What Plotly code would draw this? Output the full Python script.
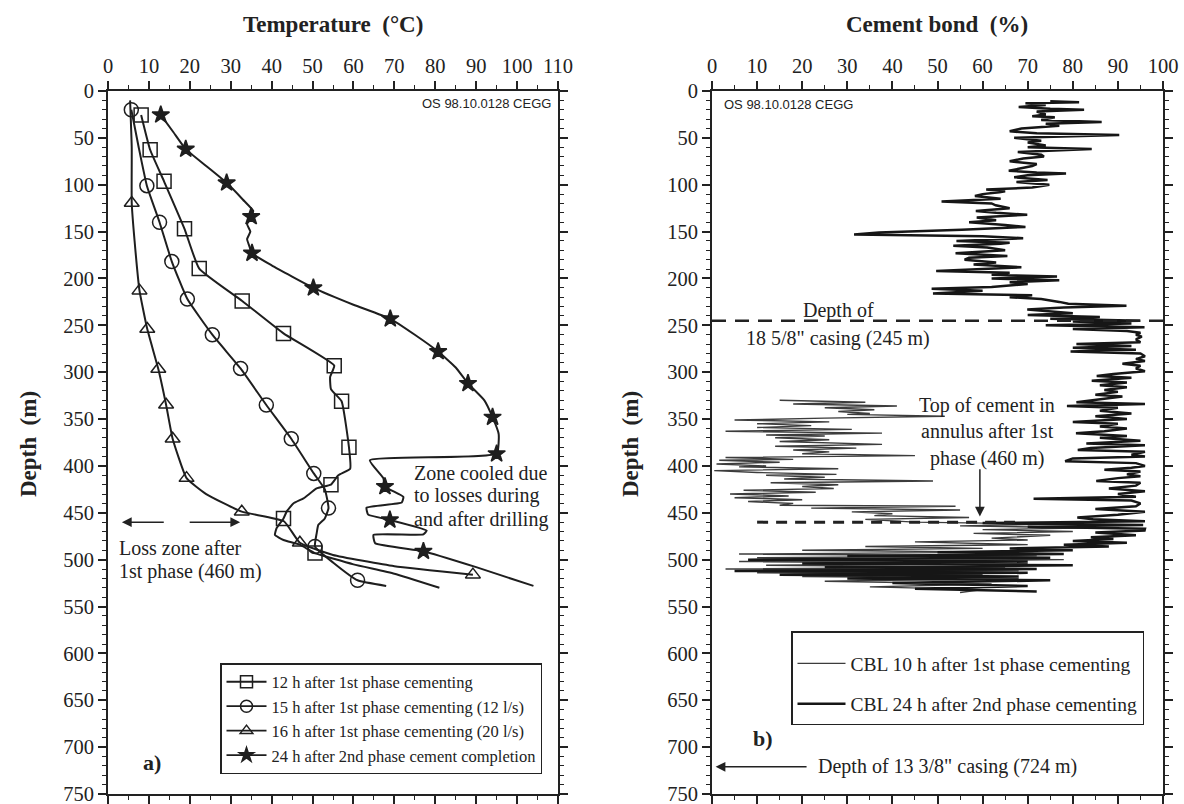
import plotly.graph_objects as go

W, H = 1184, 804
SERIF = "Liberation Serif"
SANS = "Liberation Sans"
INK = "#1e1e1e"

# ---------------- Panel a) temperature profiles ----------------
sq_path_T = [8.1, 10.3, 13.7, 18.7, 22.3, 32.8, 42.9, 55.3, 54.3, 54.5, 57.1, 58.9, 59.2, 56.3, 54.5, 51.0, 47.8, 45.3, 43.7, 42.9, 41.2, 40.8, 42.9, 46.9, 50.6, 60.0, 70.0, 81.0]
sq_path_d = [25.5, 62.7, 96.4, 147, 189.5, 224, 258.6, 293, 305, 318, 331, 380, 403, 410, 420, 424, 434.6, 440, 448.5, 456, 466.5, 473.6, 479, 484, 493, 505, 515, 530]
sq_mark_T = [8.1, 10.3, 13.7, 18.7, 22.3, 32.8, 42.9, 55.3, 57.1, 58.9, 54.5, 42.9, 50.6]
sq_mark_d = [25.5, 62.7, 96.4, 147, 189.5, 224, 258.6, 293, 331, 380, 420, 456, 493]

ci_path_T = [5.7, 7.5, 9.5, 12.6, 15.6, 19.4, 25.5, 32.4, 38.7, 44.8, 50.3, 53.0, 53.9, 53.0, 51.4, 51.0, 50.6, 55.0, 61.0, 68.0]
ci_path_d = [20, 60, 101, 140, 182, 222, 260, 296, 335, 371, 408, 425, 445, 456, 463, 472, 486, 503, 522, 528]
ci_mark_T = [5.7, 9.5, 12.6, 15.6, 19.4, 25.5, 32.4, 38.7, 44.8, 50.3, 53.9, 50.6, 61.0]
ci_mark_d = [20, 101, 140, 182, 222, 260, 296, 335, 371, 408, 445, 486, 522]

tr_path_T = [5.4, 5.8, 5.8, 6.5, 7.7, 9.6, 12.3, 14.2, 15.8, 19.2, 24.0, 32.7, 43.0, 46.9, 55.0, 70.0, 89.2]
tr_path_d = [10, 60, 119.4, 160, 213, 254, 296.6, 334.7, 371, 413, 430, 448.8, 459, 482, 495, 507, 516]
tr_mark_T = [5.8, 7.7, 9.6, 12.3, 14.2, 15.8, 19.2, 32.7, 46.9, 89.2]
tr_mark_d = [119.4, 213, 254, 296.6, 334.7, 371, 413, 448.8, 482, 516]

st_path_T = [12.9, 16, 19, 24, 29, 33, 35.5, 35, 34, 34.8, 34, 34.5, 35.2, 40, 50.2, 60, 69, 75, 80.7, 85, 88, 92, 94, 95.5, 95,
             64, 67.3, 67.7, 72.2, 71.8, 63.2, 63.6, 68.9, 77.9, 77.1, 64.9, 65.3, 77.1, 90, 104]
st_path_d = [25.5, 44, 62, 80, 98, 116, 128, 134, 142, 150, 158, 165, 173, 186, 210, 228, 243, 260, 278, 295, 312, 330, 348, 366, 387,
             394, 413, 422, 433, 439, 444.5, 452, 457.6, 469, 473, 473.6, 482.5, 491, 508, 528]
st_mark_T = [12.9, 19, 29, 35, 35.2, 50.2, 69, 80.7, 88, 94, 95, 67.7, 68.9, 77.1]
st_mark_d = [25.5, 62, 98, 134, 173, 210, 243, 278, 312, 348, 387, 422, 457.6, 491]

series_names = [
    "12 h after 1st phase cementing",
    "15 h after 1st phase cementing (12 l/s)",
    "16 h after 1st phase cementing (20 l/s)",
    "24 h after 2nd phase cement completion",
]

# ---------------- Panel b) cement bond logs ----------------
cbl24_depth = [11, 12, 13, 15, 17, 19, 20, 22, 25, 27, 28, 31, 33, 35, 37, 40, 43, 45, 47, 49, 50, 53, 55, 58, 60, 62, 64, 65, 68, 70,
               72, 75, 78, 80, 83, 85, 87, 88, 90, 92, 95, 97, 100, 103, 105, 107, 108, 110, 112, 115, 118, 120, 122, 125, 128, 130,
               132, 135, 138, 140, 143, 145, 148, 150, 151, 153, 154, 155, 157, 160, 162, 163, 165, 167, 170, 173, 176, 178, 180,
               183, 185, 188, 190, 192, 194, 196, 198, 200, 202, 204, 206, 209, 211, 213, 216, 218, 220, 222, 225, 227, 229, 231,
               233, 235, 237, 239, 241, 243, 245, 246, 248, 250, 252, 254, 256, 258, 260, 262, 265, 268, 270, 272, 274, 276, 278,
               280, 283, 286, 288, 291, 293, 296, 299, 302, 304, 306, 309, 311, 314, 316, 319, 321, 324, 326, 329, 332, 334, 336,
               338, 341, 344, 347, 350, 353, 355, 358, 360, 363, 365, 368, 370, 373, 376, 378, 381, 383, 385, 388, 390, 392, 395,
               397, 400, 402, 404, 406, 409, 411, 413, 416, 418, 421, 424, 427, 430, 433, 435, 437, 440, 443, 446, 449, 452, 455,
               457, 459, 461, 463, 465, 467, 469, 471, 474, 476, 478, 480, 482, 484, 486, 488, 490, 492, 494, 496, 498, 500, 502,
               504, 506, 508, 510, 512, 514, 516, 518, 520, 522, 525, 528, 531, 534]
cbl24_value = [75, 81.4, 69.5, 74, 68, 75, 82.5, 72, 74, 71, 76, 73, 86.4, 74, 77, 68.6, 66, 72, 90.3, 70, 67, 73, 70, 74, 70, 84.2,
               72, 67.8, 73, 73.6, 69, 66, 72, 71, 68, 65.8, 72, 78.5, 70, 67, 74.4, 67.5, 74.8, 71, 60.8, 65, 63.7, 60, 58.3, 64,
               50.9, 62, 62.9, 66, 58.5, 63, 69.9, 58.7, 63, 57, 65, 69.5, 55.4, 45, 37, 31.5, 43, 60, 69, 54.2, 66, 64, 53.5, 61,
               65, 54, 65.5, 57, 56, 63, 58, 68.6, 60, 49.7, 66, 62, 76.5, 62, 77, 66, 70, 62, 48.7, 60, 49, 71, 66, 73, 77, 79,
               91.9, 78, 69.9, 75, 80, 70, 86, 75, 95, 80, 93, 74, 95.9, 80, 92, 95, 94, 95.3, 94, 95, 80.8, 93, 80, 94, 79.5, 95,
               96, 94, 96, 91, 95, 94, 96, 89, 85.3, 93, 84.2, 92, 86, 92, 87, 90, 85, 91, 86, 80.8, 96, 78.7, 90, 86, 93, 85, 92,
               80, 90, 86, 92, 87, 80.7, 92, 86, 95, 83, 96, 84, 81.1, 96, 93, 96, 80, 78.3, 94, 96, 93, 87, 95, 92, 95, 90, 85.2,
               95, 94, 88, 96, 90, 94, 71.3, 93, 95, 94, 85, 96, 90, 81, 84.5, 96, 60, 95.6, 70, 96, 95.9, 85, 94, 84, 89, 80, 92,
               78, 88, 66, 80, 50, 78, 30, 75, 8, 70, 20, 80, 25, 72, 5, 70, 15, 68, 30, 75, 40, 70, 45, 72]

cbl10_depth = [330, 332, 334, 336, 338, 340, 342, 344, 345, 347, 349, 351, 353, 355, 357, 359, 361, 363, 365, 367, 368, 370, 372,
               374, 377, 379, 381, 383, 385, 387, 389, 391, 393, 394, 396, 398, 400, 401, 403, 405, 407, 409, 410, 412, 414, 416,
               418, 420, 422, 424, 426, 428, 430, 432, 434, 436, 438, 440, 442, 443, 445, 447, 449, 451, 453, 455, 457, 460, 462,
               464, 466, 468, 470, 472, 474, 477, 479, 481, 484, 486, 488, 490, 492, 494, 496, 498, 500, 502, 504, 506, 508, 510,
               512, 514, 516, 518, 520, 523, 526, 529, 532, 535]
cbl10_value = [15, 34, 18, 41, 25, 36, 28, 35, 30, 51.6, 25, 5, 26, 10, 22, 10, 31, 3, 37.7, 12, 25, 14, 26, 15, 37.7, 14, 32, 18,
               26, 20, 45, 3, 18, 1.6, 15, 1, 12, 6, 28, 0.5, 10, 27.6, 12, 25, 16, 49, 13, 28, 20, 27, 7, 23, 4, 17, 5, 20, 8, 18,
               15, 54, 22, 55, 31, 40, 36, 57, 34, 45, 75, 55, 85, 60, 80, 58, 75, 62, 70, 45, 70, 34, 60, 20, 65, 6, 72, 10, 78, 6,
               70, 12, 65, 3, 68, 10, 60, 20, 68, 25, 62, 35, 60, 55]

cbl_names = ["CBL 10 h after 1st phase cementing", "CBL 24 h after 2nd phase cementing"]

casing_18_depth = 245
cement_top_depth = 460
casing_13_depth = 724

# ---------------- layout geometry ----------------
def px_x(p):
    return p / W

def px_y(p):
    return 1 - p / H

fig = go.Figure()

def add_series(pT, pd_, mT, md, sym, size, name):
    fig.add_trace(go.Scatter(x=pT, y=pd_, mode="lines", line=dict(color=INK, width=2.0, shape="spline", smoothing=0.4),
                             xaxis="x", yaxis="y", showlegend=False, hoverinfo="skip"))
    mk = dict(symbol=sym, size=size, color=INK, line=dict(color=INK, width=1.5))
    fig.add_trace(go.Scatter(x=mT, y=md, mode="markers", marker=mk, xaxis="x", yaxis="y", showlegend=False))
    fig.add_trace(go.Scatter(x=[None], y=[None], mode="lines+markers", name=name, marker=dict(mk, size=size - 2),
                             line=dict(color=INK, width=1.8), xaxis="x", yaxis="y", legend="legend"))

add_series(sq_path_T, sq_path_d, sq_mark_T, sq_mark_d, "square-open", 14, series_names[0])
add_series(ci_path_T, ci_path_d, ci_mark_T, ci_mark_d, "circle-open", 14, series_names[1])
add_series(tr_path_T, tr_path_d, tr_mark_T, tr_mark_d, "triangle-up-open", 13, series_names[2])
add_series(st_path_T, st_path_d, st_mark_T, st_mark_d, "star", 13, series_names[3])

fig.add_trace(go.Scatter(x=cbl10_value, y=cbl10_depth, mode="lines", name=cbl_names[0],
                         line=dict(color="#3c3c3c", width=1.4), xaxis="x2", yaxis="y2",
                         legend="legend2", legendgroup="g1"))
fig.add_trace(go.Scatter(x=cbl24_value, y=cbl24_depth, mode="lines", name=cbl_names[1],
                         line=dict(color="#161616", width=2.5), xaxis="x2", yaxis="y2",
                         legend="legend2", legendgroup="g2"))

tickfont = dict(family=SERIF, size=20.5, color="#222")
common = dict(showline=True, linecolor="#222", linewidth=1.6, mirror="allticks", ticks="outside",
              ticklen=8, tickwidth=1.5, tickcolor="#222", showgrid=False, zeroline=False,
              tickfont=tickfont, automargin=False, ticklabeloverflow="allow")

ydom = [px_y(794), px_y(91)]
fig.update_layout(
    width=W, height=H, margin=dict(l=0, r=0, t=0, b=0, autoexpand=False),
    paper_bgcolor="white", plot_bgcolor="white",
    xaxis=dict(common, domain=[px_x(108), px_x(558)], range=[0, 110], dtick=10, side="top", anchor="y",
               minor=dict(ticks="outside", ticklen=4, tickwidth=1, dtick=5, tickcolor="#222")),
    yaxis=dict(common, domain=ydom, range=[750, 0], dtick=50, anchor="x",
               minor=dict(ticks="outside", ticklen=4, tickwidth=1, dtick=10, tickcolor="#222")),
    xaxis2=dict(common, domain=[px_x(712), px_x(1163)], range=[0, 100], dtick=10, side="top", anchor="y2",
                minor=dict(ticks="outside", ticklen=4, tickwidth=1, dtick=5, tickcolor="#222")),
    yaxis2=dict(common, domain=ydom, range=[750, 0], dtick=50, anchor="x2",
                minor=dict(ticks="outside", ticklen=4, tickwidth=1, dtick=10, tickcolor="#222")),
    legend=dict(x=px_x(220), y=px_y(663), xanchor="left", yanchor="top", bgcolor="white",
                bordercolor="#222", borderwidth=1.5, font=dict(family=SERIF, size=16.5, color="#222"),
                itemwidth=40, tracegroupgap=0),
    legend2=dict(x=px_x(791), y=px_y(631), xanchor="left", yanchor="top", bgcolor="white",
                 bordercolor="#222", borderwidth=1.5, font=dict(family=SERIF, size=19.5, color="#222"),
                 itemwidth=48, traceorder="grouped", tracegroupgap=12,
                 title=dict(text=" ", font=dict(size=9))),
    showlegend=True,
)

# dashed reference lines (panel b)
fig.add_shape(type="line", xref="x2", yref="y2", x0=0, x1=101, y0=casing_18_depth, y1=casing_18_depth,
              line=dict(color="#222", width=2.5, dash="14px,9px"))
fig.add_shape(type="line", xref="x2", yref="y2", x0=10, x1=68, y0=cement_top_depth, y1=cement_top_depth,
              line=dict(color="#222", width=3, dash="11px,8px"))

def txt(x, y, s, xref="x", yref="y", size=20, anchor="left", bold=False, family=SERIF, angle=0):
    fig.add_annotation(x=x, y=y, xref=xref, yref=yref, text=("<b>%s</b>" % s) if bold else s,
                       showarrow=False, xanchor=anchor, yanchor="middle", textangle=angle,
                       font=dict(family=family, size=size, color="#222"))

def arrow(xh, yh, xt, yt, xref, yref):
    fig.add_annotation(x=xh, y=yh, ax=xt, ay=yt, xref=xref, yref=yref, axref=xref, ayref=yref,
                       text="", showarrow=True, arrowhead=2, arrowsize=1.3, arrowwidth=1.5, arrowcolor="#222")

# titles
txt(px_x(333), px_y(25), "Temperature  (°C)", "paper", "paper", size=23, anchor="center", bold=True)
txt(px_x(937), px_y(25), "Cement bond  (%)", "paper", "paper", size=23, anchor="center", bold=True)
txt(px_x(28), px_y(444), "Depth  (m)", "paper", "paper", size=23, anchor="center", bold=True, angle=-90)
txt(px_x(630), px_y(444), "Depth  (m)", "paper", "paper", size=23, anchor="center", bold=True, angle=-90)

# panel a annotations
txt(108.8, 13, "OS 98.10.0128 CEGG", size=13, anchor="right", family=SANS)
txt(74.3, 408, "Zone cooled due", size=20)
txt(74.3, 432, "to losses during", size=20)
txt(74.3, 457, "and after drilling", size=20)
txt(2.2, 488, "Loss zone after", size=20)
txt(2.2, 513, "1st phase (460 m)", size=20)
arrow(3.4, cement_top_depth, 14, cement_top_depth, "x", "y")
arrow(32.3, cement_top_depth, 19.6, cement_top_depth, "x", "y")
txt(8, 716, "a)", size=22, bold=True)

# panel b annotations
txt(2.2, 14, "OS 98.10.0128 CEGG", "x2", "y2", size=13, family=SANS)
txt(28, 234, "Depth of", "x2", "y2", size=20, anchor="center")
txt(28, 264, "18 5/8\" casing (245 m)", "x2", "y2", size=20, anchor="center")
txt(61, 336, "Top of cement in", "x2", "y2", size=20, anchor="center")
txt(61, 363, "annulus after 1st", "x2", "y2", size=20, anchor="center")
txt(61, 392, "phase (460 m)", "x2", "y2", size=20, anchor="center")
arrow(59.4, 454, 59.4, 402, "x2", "y2")
txt(8.6, 691, "b)", "x2", "y2", size=22, bold=True)
arrow(0.8, casing_13_depth - 3, 21.3, casing_13_depth - 3, "x2", "y2")
txt(23, casing_13_depth - 3, "Depth of 13 3/8\" casing (724 m)", "x2", "y2", size=20)

fig.write_html("out.html")
